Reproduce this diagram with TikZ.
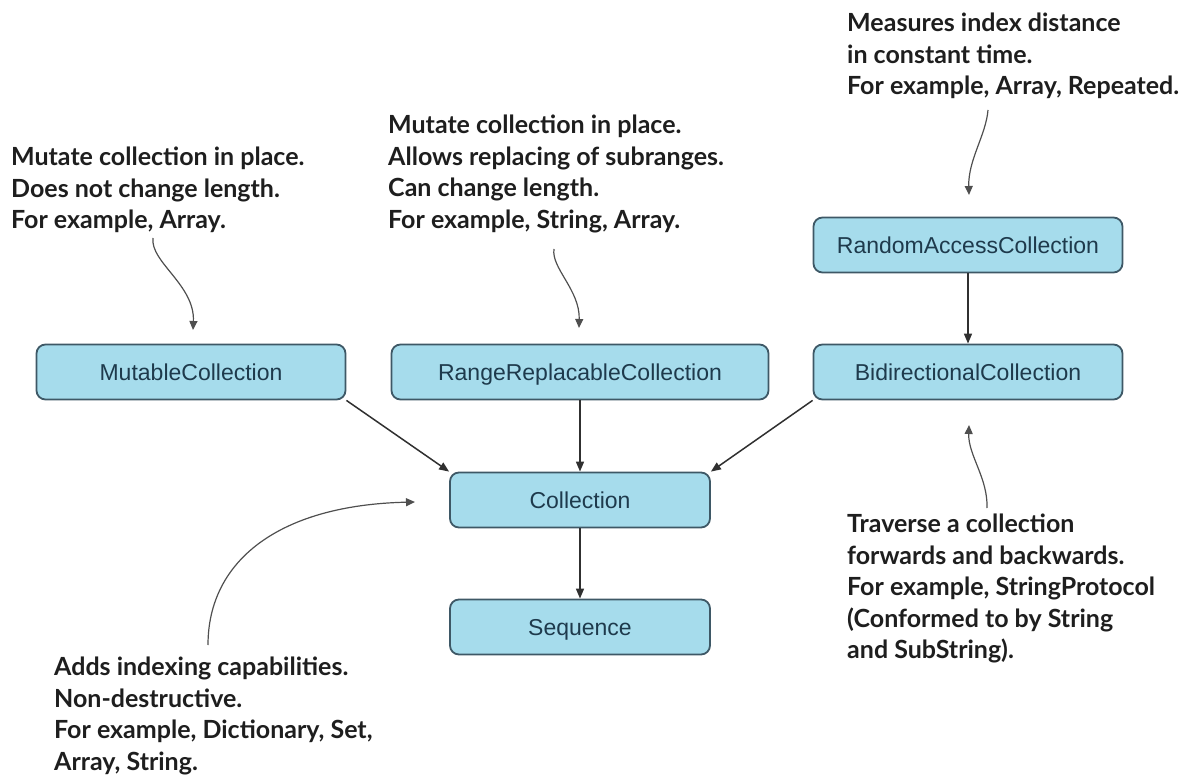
\documentclass[tikz,border=0pt]{standalone}
\usepackage{fontspec}
\setmainfont{Liberation Sans}
\newfontfamily\notefont{Lato}
\usetikzlibrary{arrows.meta, positioning}

\definecolor{boxfill}{HTML}{A6DCEC}
\definecolor{boxline}{HTML}{3E5866}
\definecolor{boxtext}{HTML}{1E3A4C}
\definecolor{notetext}{HTML}{1E1E1E}
\definecolor{linkgray}{HTML}{303030}

\begin{document}
\begin{tikzpicture}[x=1pt, y=-1pt,
  collbox/.style={draw=boxline, line width=1.8pt, fill=boxfill, rounded corners=9pt,
    minimum height=55pt, inner sep=0pt, text height=17pt, text depth=0.5pt,
    text=boxtext, font=\fontsize{23}{26}\selectfont},
  note/.style={anchor=north west, align=left, inner sep=0pt, text=notetext,
    font=\notefont\bfseries\fontsize{25}{31.5}\selectfont},
  link/.style={-{Triangle[length=10pt, width=8pt]}, line width=1.5pt, draw=linkgray},
  notearrow/.style={-{Triangle[length=9pt, width=8pt]}, line width=1.2pt, draw=linkgray!85}]

\useasboundingbox (0,0) rectangle (1195,778);

% protocol boxes
\node[collbox, minimum width=309pt] (mutable)  at (191,372) {MutableCollection};
\node[collbox, minimum width=377pt] (rangerep) at (580,372) {RangeReplacableCollection};
\node[collbox, minimum width=309pt] (bidir)    at (968,372) {BidirectionalCollection};
\node[collbox, minimum width=309pt] (randacc)  at (968,245) {RandomAccessCollection};
\node[collbox, minimum width=260pt] (coll)     at (580,500) {Collection};
\node[collbox, minimum width=260pt] (seq)      at (580,627) {Sequence};

% inheritance links
\draw[link] (randacc) -- (bidir);
\draw[link] (rangerep) -- (coll);
\draw[link] (mutable.south east) -- (coll.north west);
\draw[link] (bidir.south west) -- (coll.north east);
\draw[link] (coll) -- (seq);

% notes
\node[note] (mutnote) at (11,147)
  {Mutate collection in place.\\Does not change length.\\For example, Array.};
\node[note] (rangenote) at (388,115)
  {Mutate collection in place.\\Allows replacing of subranges.\\Can change length.\\For example, String, Array.};
\node[note] (randnote) at (847,13)
  {Measures index distance\\in constant time.\\For example, Array, Repeated.};
\node[note] (bidirnote) at (847,514)
  {Traverse a collection\\forwards and backwards.\\For example, StringProtocol\\(Conformed to by String\\and SubString).};
\node[note] (collnote) at (54,657)
  {Adds indexing capabilities.\\Non-destructive.\\For example, Dictionary, Set,\\Array, String.};

% note pointers
\coordinate (mutfrom) at (153,238);
\coordinate (mutto) at (193,330);
\draw[notearrow] (mutfrom) .. controls (150,262) and (195,285) .. (mutto);

\coordinate (rangefrom) at (554,249);
\coordinate (rangeto) at (579,328);
\draw[notearrow] (rangefrom) .. controls (551,268) and (580,290) .. (rangeto);

\coordinate (randfrom) at (988,110);
\coordinate (randto) at (969,195);
\draw[notearrow] (randfrom) .. controls (986,135) and (968,160) .. (randto);

\coordinate (bidirfrom) at (987,508);
\coordinate (bidirto) at (969,425);
\draw[notearrow] (bidirfrom) .. controls (988,478) and (968,455) .. (bidirto);

\coordinate (collfrom) at (208,645);
\coordinate (collto) at (415,502);
\draw[notearrow] (collfrom) .. controls (208,560) and (280,505) .. (collto);

\end{tikzpicture}
\end{document}
